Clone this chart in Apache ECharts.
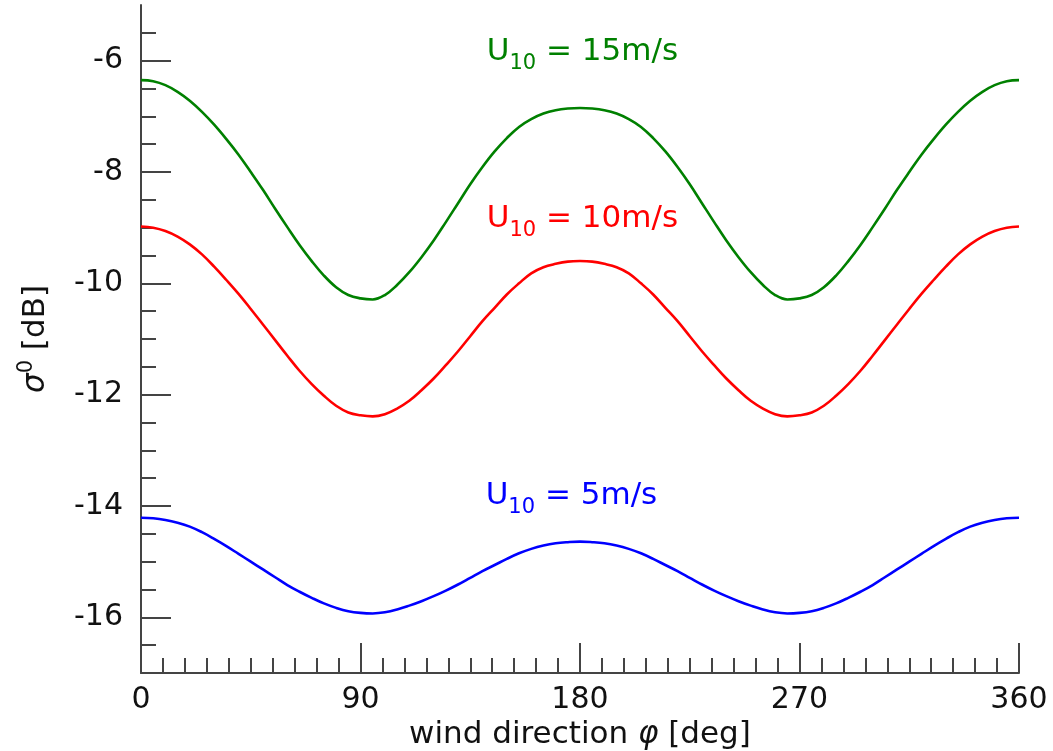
<!DOCTYPE html>
<html>
<head>
<meta charset="utf-8">
<script src="https://cdn.jsdelivr.net/npm/echarts@6/dist/echarts.min.js"></script>
<style>html,body{margin:0;padding:0;background:#fff;}#c{width:1053px;height:751px;}</style>
</head>
<body>
<div id="c"></div>
<script>
const phi = [0,5,10,15,20,25,30,35,40,45,50,55,60,65,70,75,80,85,90,95,100,105,110,115,120,125,130,135,140,145,150,155,160,165,170,175,180,
  185,190,195,200,205,210,215,220,225,230,235,240,245,250,255,260,265,270,275,280,285,290,295,300,305,310,315,320,325,330,335,340,345,350,355,360];
const u15 = [-6.35,-6.37,-6.44,-6.56,-6.72,-6.92,-7.15,-7.41,-7.69,-8.00,-8.32,-8.66,-8.99,-9.31,-9.60,-9.86,-10.07,-10.21,-10.27,-10.29,-10.21,-10.03,-9.80,-9.53,-9.23,-8.90,-8.56,-8.22,-7.91,-7.63,-7.39,-7.19,-7.05,-6.95,-6.89,-6.86,-6.85,
  -6.86,-6.89,-6.95,-7.05,-7.19,-7.39,-7.63,-7.91,-8.22,-8.56,-8.90,-9.23,-9.53,-9.80,-10.03,-10.21,-10.29,-10.27,-10.21,-10.07,-9.86,-9.60,-9.31,-8.99,-8.66,-8.32,-8.00,-7.69,-7.41,-7.15,-6.92,-6.72,-6.56,-6.44,-6.37,-6.35];
const u10 = [-8.98,-9.00,-9.06,-9.16,-9.30,-9.48,-9.70,-9.94,-10.19,-10.46,-10.74,-11.02,-11.30,-11.57,-11.81,-12.02,-12.20,-12.32,-12.37,-12.39,-12.35,-12.25,-12.11,-11.92,-11.71,-11.47,-11.22,-10.95,-10.68,-10.44,-10.20,-10.00,-9.82,-9.71,-9.65,-9.61,-9.60,
  -9.61,-9.65,-9.71,-9.82,-10.00,-10.20,-10.44,-10.68,-10.95,-11.22,-11.47,-11.71,-11.92,-12.11,-12.25,-12.35,-12.39,-12.37,-12.32,-12.20,-12.02,-11.81,-11.57,-11.30,-11.02,-10.74,-10.46,-10.19,-9.94,-9.70,-9.48,-9.30,-9.16,-9.06,-9.00,-8.98];
const u5 = [-14.21,-14.22,-14.25,-14.30,-14.37,-14.47,-14.59,-14.72,-14.86,-15.00,-15.14,-15.28,-15.42,-15.54,-15.65,-15.75,-15.83,-15.89,-15.92,-15.93,-15.91,-15.86,-15.79,-15.71,-15.62,-15.52,-15.41,-15.29,-15.17,-15.06,-14.95,-14.85,-14.77,-14.71,-14.67,-14.65,-14.64,
  -14.65,-14.67,-14.71,-14.77,-14.85,-14.95,-15.06,-15.17,-15.29,-15.41,-15.52,-15.62,-15.71,-15.79,-15.86,-15.91,-15.93,-15.92,-15.89,-15.83,-15.75,-15.65,-15.54,-15.42,-15.28,-15.14,-15.00,-14.86,-14.72,-14.59,-14.47,-14.37,-14.30,-14.25,-14.22,-14.21];
const yMajor = [-16,-14,-12,-10,-8,-6];
const yMinor = [-16.5,-15.5,-15,-14.5,-13.5,-13,-12.5,-11.5,-11,-10.5,-9.5,-9,-8.5,-7.5,-7,-6.5,-5.5];
const speedLabels = ['15m/s','10m/s','5m/s'];
const labelPos = [[181,-5.84],[181,-8.85],[176.5,-13.82]];
const colors = ['#008000','#ff0000','#0000ff'];
const seriesData = [u15,u10,u5];

const FONT = 'DejaVu Sans';
const axisColor = '#444';

const chart = echarts.init(document.getElementById('c'), null, {renderer:'canvas'});
const series = seriesData.map((vals,i)=>({
  type:'line',
  data: phi.map((p,k)=>[p, vals[k]]),
  smooth: 0.4,
  showSymbol: false,
  symbol: 'none',
  lineStyle: {color: colors[i], width: 2.6},
  itemStyle: {color: colors[i]},
  silent: true,
  markPoint: {
    symbol: 'circle', symbolSize: 0,
    silent: true,
    data: [{coord: labelPos[i], value: speedLabels[i]}],
    label: {
      show: true, position: 'inside', align: 'center', verticalAlign: 'middle',
      formatter: '{u|U}{s|10}{u| = ' + speedLabels[i] + '}',
      rich: {
        u: {fontFamily: FONT, fontSize: 31, color: colors[i], lineHeight: 44, verticalAlign: 'middle'},
        s: {fontFamily: FONT, fontSize: 21, color: colors[i], lineHeight: 18, verticalAlign: 'bottom'}
      }
    }
  }
}));

chart.setOption({
  animation: false,
  backgroundColor: '#fff',
  grid: {left: 141, right: 34, top: 5, bottom: 78, containLabel: false, outerBoundsMode: 'none'},
  xAxis: {
    type: 'value', min: 0, max: 360, interval: 90,
    name: 'wind direction {i|φ} [deg]', nameLocation: 'middle', nameGap: 37,
    nameTextStyle: {fontFamily: FONT, fontSize: 31, color: '#111',
      rich: {i: {fontFamily: FONT, fontSize: 31, fontStyle: 'italic', color: '#111'}}},
    axisLine: {show: true, onZero: false, lineStyle: {color: axisColor, width: 2}},
    axisTick: {show: true, inside: true, length: 30, lineStyle: {color: axisColor, width: 2}},
    minorTick: {show: true, splitNumber: 10, length: 15, lineStyle: {color: axisColor, width: 2}},
    axisLabel: {fontFamily: FONT, fontSize: 30, color: '#111', margin: 12},
    splitLine: {show: false}, minorSplitLine: {show: false}
  },
  yAxis: [{
    type: 'value', min: -17, max: -5,
    name: '{s|σ}{p|0}{t| [dB]}', nameLocation: 'middle', nameGap: 85, nameRotate: 90,
    nameTextStyle: {fontFamily: FONT, fontSize: 31, color: '#111',
      rich: {
        s: {fontFamily: FONT, fontSize: 31, fontStyle: 'italic', color: '#111', lineHeight: 40, verticalAlign: 'middle'},
        p: {fontFamily: FONT, fontSize: 21, color: '#111', lineHeight: 20, verticalAlign: 'top'},
        t: {fontFamily: FONT, fontSize: 31, color: '#111', lineHeight: 40, verticalAlign: 'middle'}
      }},
    axisLine: {show: true, onZero: false, lineStyle: {color: axisColor, width: 2}},
    axisTick: {show: true, inside: true, length: 30, customValues: yMajor, lineStyle: {color: axisColor, width: 2}},
    axisLabel: {fontFamily: FONT, fontSize: 30, color: '#111', margin: 18, customValues: yMajor, padding: [6,0,0,0]},
    splitLine: {show: false}
  },{
    type: 'value', min: -17, max: -5, position: 'left', offset: 0,
    axisLine: {show: false},
    axisTick: {show: true, inside: true, length: 15, customValues: yMinor, lineStyle: {color: axisColor, width: 2}},
    axisLabel: {show: false},
    splitLine: {show: false}
  }],
  series: series
});
</script>
</body>
</html>
